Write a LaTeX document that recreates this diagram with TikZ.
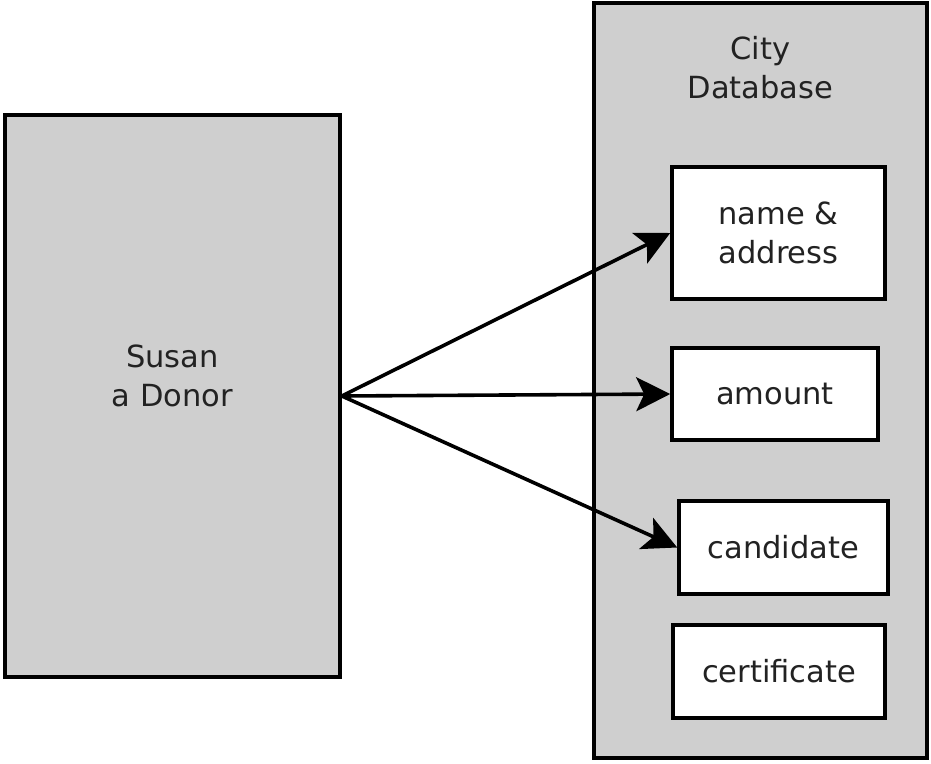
\documentclass[tikz,border=0pt]{standalone}
\usepackage{fontspec}
\setmainfont{DejaVu Sans}
\usetikzlibrary{positioning,arrows.meta}

\definecolor{boxgray}{HTML}{CFCFCF}
\definecolor{inktext}{HTML}{222222}

\tikzset{
  store/.style={draw, line width=3.6pt, fill=boxgray, inner sep=0pt},
  field/.style={draw, line width=3.6pt, fill=white, align=center, inner sep=0pt},
  flow/.style={-{Stealth[length=34pt, width=34pt, inset=8pt]}, line width=3.6pt},
  every node/.style={text=inktext, font=\fontsize{30.5}{39}\selectfont}
}

\begin{document}
\begin{tikzpicture}[x=1pt, y=-1pt]
      \useasboundingbox (0,0) rectangle (931,763);
      \node[store, minimum width=335pt, minimum height=562pt] (donor) at (172.5,396) {};
      \node[align=center, above=-14pt of donor.center] (donorname) {Susan\\a Donor};
      \node[store, minimum width=333pt, minimum height=755pt] (db) at (760.5,380.5) {};
      \node[align=center, below=32pt of db.north] (dbname) {City\\Database};
      \node[field, minimum width=213pt, minimum height=132pt] (name) at (778.5,233) {name \&\\address};
      \node[field, minimum width=206pt, minimum height=92pt] (amount) at (775,394) {amount};
      \node[field, minimum width=209pt, minimum height=93pt] (cand) at (783.5,547.5) {candidate};
      \node[field, minimum width=212pt, minimum height=93pt] (cert) at (779,671.5) {certificate};
      \draw[flow] (donor.east) -- (name.west);
      \draw[flow] (donor.east) -- (amount.west);
      \draw[flow] (donor.east) -- (cand.west);
    \end{tikzpicture}
\end{document}
